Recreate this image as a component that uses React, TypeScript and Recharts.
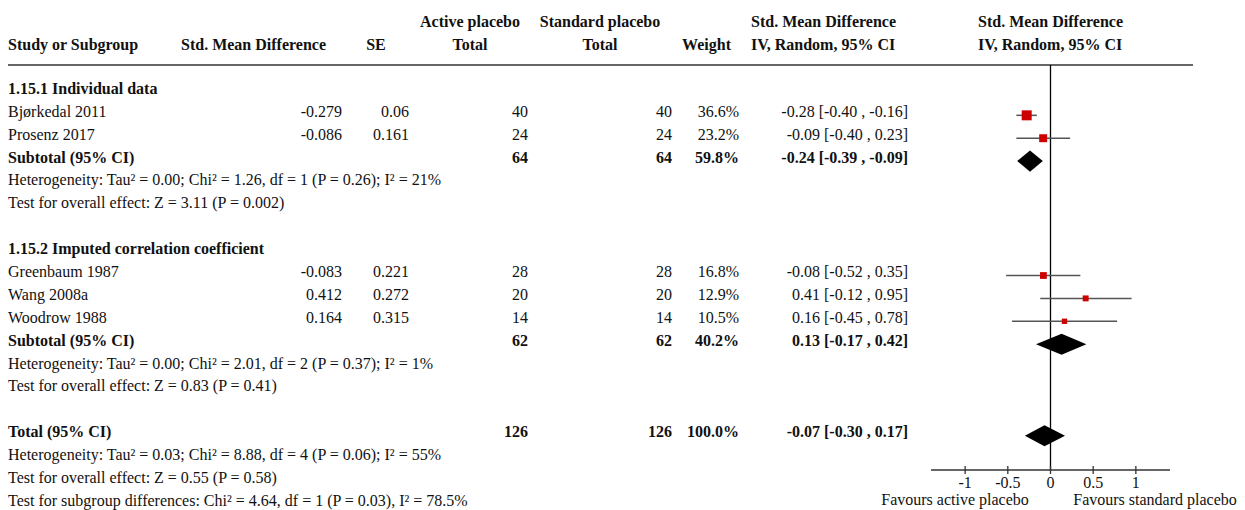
import React from 'react';
import {
  Area,
  ComposedChart,
  ErrorBar,
  ReferenceLine,
  Scatter,
  XAxis,
  YAxis,
} from 'recharts';

// individual studies
const studyNames = ['Bjørkedal 2011', 'Prosenz 2017', 'Greenbaum 1987', 'Wang 2008a', 'Woodrow 1988'];
const studyRows = [1, 2, 8, 9, 10];
const smdValues = [-0.279, -0.086, -0.083, 0.412, 0.164];
const seValues = [0.06, 0.161, 0.221, 0.272, 0.315];
const activeTotals = [40, 24, 28, 20, 14];
const standardTotals = [40, 24, 28, 20, 14];
const studyWeights = [36.6, 23.2, 16.8, 12.9, 10.5];
const studyEst = [-0.28, -0.09, -0.08, 0.41, 0.16];
const studyLow = [-0.4, -0.4, -0.52, -0.12, -0.45];
const studyHigh = [-0.16, 0.23, 0.35, 0.95, 0.78];

// pooled estimates (subtotal 1.15.1, subtotal 1.15.2, overall)
const pooledLabels = ['Subtotal (95% CI)', 'Subtotal (95% CI)', 'Total (95% CI)'];
const pooledRows = [3, 11, 15];
const pooledActive = [64, 62, 126];
const pooledStandard = [64, 62, 126];
const pooledWeights = [59.8, 40.2, 100.0];
const pooledEst = [-0.24, 0.13, -0.07];
const pooledLow = [-0.39, -0.17, -0.3];
const pooledHigh = [-0.09, 0.42, 0.17];

const groupTitles = ['1.15.1 Individual data', '1.15.2 Imputed correlation coefficient'];
const groupRows = [0, 7];

const noteRows = [4, 5, 12, 13, 16, 17, 18];
const noteTexts = [
  'Heterogeneity: Tau² = 0.00; Chi² = 1.26, df = 1 (P = 0.26); I² = 21%',
  'Test for overall effect: Z = 3.11 (P = 0.002)',
  'Heterogeneity: Tau² = 0.00; Chi² = 2.01, df = 2 (P = 0.37); I² = 1%',
  'Test for overall effect: Z = 0.83 (P = 0.41)',
  'Heterogeneity: Tau² = 0.03; Chi² = 8.88, df = 4 (P = 0.06); I² = 55%',
  'Test for overall effect: Z = 0.55 (P = 0.58)',
  'Test for subgroup differences: Chi² = 4.64, df = 1 (P = 0.03), I² = 78.5%',
];

const axisTicks = [-1, -0.5, 0, 0.5, 1];
const favourLabels = ['Favours active placebo', 'Favours standard placebo'];

const W = 1245;
const H = 510;
const FONT = "'Liberation Serif', 'Times New Roman', serif";
const INK = '#111';
const Y_DOMAIN: [number, number] = [-1.2, 16.5];
const PLOT_TOP = 65;
const PLOT_BOTTOM = 470;
const DIAMOND_HALF = 0.46;

// row index -> pixel y of the row centre (same mapping as the Y axis)
const rowY = (k: number) =>
  PLOT_TOP + ((k - Y_DOMAIN[0]) / (Y_DOMAIN[1] - Y_DOMAIN[0])) * (PLOT_BOTTOM - PLOT_TOP);
const baseline = (k: number) => rowY(k) + 1.5;

const fmtCI = (e: number, lo: number, hi: number) =>
  `${e.toFixed(2)} [${lo.toFixed(2)} , ${hi.toFixed(2)}]`;

const studyPoints = studyNames.map((name, i) => ({
  name,
  x: smdValues[i],
  y: studyRows[i],
  err: [smdValues[i] - studyLow[i], studyHigh[i] - smdValues[i]],
  weight: studyWeights[i],
}));

const diamondData = (i: number) => [
  { x: pooledLow[i], band: [pooledRows[i], pooledRows[i]] },
  { x: pooledEst[i], band: [pooledRows[i] - DIAMOND_HALF, pooledRows[i] + DIAMOND_HALF] },
  { x: pooledHigh[i], band: [pooledRows[i], pooledRows[i]] },
];

function WeightedSquare(props: any) {
  const { cx, cy, payload } = props;
  const side = 1.65 * Math.sqrt(payload.weight);
  return <rect x={cx - side / 2} y={cy - side / 2} width={side} height={side} fill="#cc0000" />;
}

function AxisTick(props: any) {
  const { x, y, payload } = props;
  return (
    <g>
      <line x1={x} x2={x} y1={y - 4} y2={y + 4} stroke="#333" strokeWidth={1.3} />
      <text x={x} y={y + 18} textAnchor="middle" fontSize={16} fontFamily={FONT} fill={INK}>
        {payload.value}
      </text>
    </g>
  );
}

type Cell = { text: string; x: number; anchor: 'start' | 'middle' | 'end'; bold?: boolean };

const COL = { name: 8, smd: 342, se: 409, nA: 528, nS: 672, weight: 739, ci: 908 };

function Table() {
  const t = (c: Cell, y: number, key: string) => (
    <text
      key={key}
      x={c.x}
      y={y}
      textAnchor={c.anchor}
      fontWeight={c.bold ? 'bold' : 'normal'}
    >
      {c.text}
    </text>
  );

  const header1: Cell[] = [
    { text: 'Active placebo', x: 470, anchor: 'middle', bold: true },
    { text: 'Standard placebo', x: 600, anchor: 'middle', bold: true },
    { text: 'Std. Mean Difference', x: 751, anchor: 'start', bold: true },
    { text: 'Std. Mean Difference', x: 978, anchor: 'start', bold: true },
  ];
  const header2: Cell[] = [
    { text: 'Study or Subgroup', x: 8, anchor: 'start', bold: true },
    { text: 'Std. Mean Difference', x: 181, anchor: 'start', bold: true },
    { text: 'SE', x: 376, anchor: 'middle', bold: true },
    { text: 'Total', x: 470, anchor: 'middle', bold: true },
    { text: 'Total', x: 600, anchor: 'middle', bold: true },
    { text: 'Weight', x: 731, anchor: 'end', bold: true },
    { text: 'IV, Random, 95% CI', x: 751, anchor: 'start', bold: true },
    { text: 'IV, Random, 95% CI', x: 978, anchor: 'start', bold: true },
  ];

  return (
    <svg
      width={W}
      height={H}
      style={{ position: 'absolute', left: 0, top: 0 }}
      fontFamily={FONT}
      fontSize={16}
      fill={INK}
    >
      {header1.map((c, i) => t(c, 26.5, `h1-${i}`))}
      {header2.map((c, i) => t(c, 49.5, `h2-${i}`))}
      <line x1={8} x2={1193} y1={65} y2={65} stroke="#333" strokeWidth={1.6} />

      {groupTitles.map((g, i) =>
        t({ text: g, x: COL.name, anchor: 'start', bold: true }, baseline(groupRows[i]), `g-${i}`)
      )}

      {studyNames.map((name, i) => {
        const y = baseline(studyRows[i]);
        return (
          <g key={`s-${i}`}>
            {t({ text: name, x: COL.name, anchor: 'start' }, y, 'n')}
            {t({ text: String(smdValues[i]), x: COL.smd, anchor: 'end' }, y, 'm')}
            {t({ text: String(seValues[i]), x: COL.se, anchor: 'end' }, y, 'se')}
            {t({ text: String(activeTotals[i]), x: COL.nA, anchor: 'end' }, y, 'a')}
            {t({ text: String(standardTotals[i]), x: COL.nS, anchor: 'end' }, y, 'b')}
            {t({ text: `${studyWeights[i].toFixed(1)}%`, x: COL.weight, anchor: 'end' }, y, 'w')}
            {t({ text: fmtCI(studyEst[i], studyLow[i], studyHigh[i]), x: COL.ci, anchor: 'end' }, y, 'c')}
          </g>
        );
      })}

      {pooledLabels.map((label, i) => {
        const y = baseline(pooledRows[i]);
        return (
          <g key={`p-${i}`}>
            {t({ text: label, x: COL.name, anchor: 'start', bold: true }, y, 'n')}
            {t({ text: String(pooledActive[i]), x: COL.nA, anchor: 'end', bold: true }, y, 'a')}
            {t({ text: String(pooledStandard[i]), x: COL.nS, anchor: 'end', bold: true }, y, 'b')}
            {t({ text: `${pooledWeights[i].toFixed(1)}%`, x: COL.weight, anchor: 'end', bold: true }, y, 'w')}
            {t({ text: fmtCI(pooledEst[i], pooledLow[i], pooledHigh[i]), x: COL.ci, anchor: 'end', bold: true }, y, 'c')}
          </g>
        );
      })}

      {noteTexts.map((note, i) =>
        t({ text: note, x: COL.name, anchor: 'start' }, baseline(noteRows[i]), `note-${i}`)
      )}

      {t({ text: favourLabels[0], x: 955, anchor: 'middle' }, 504.5, 'fav-0')}
      {t({ text: favourLabels[1], x: 1155, anchor: 'middle' }, 504.5, 'fav-1')}
    </svg>
  );
}

export default function App() {
  return (
    <div style={{ position: 'absolute', left: 0, top: 0, width: W, height: H, background: '#fff' }}>
      <Table />
      <div style={{ position: 'absolute', left: 0, top: 0 }}>
        <ComposedChart
          width={W}
          height={H}
          margin={{ top: PLOT_TOP, right: 75, bottom: H - PLOT_BOTTOM - 30, left: 931 }}
        >
          <XAxis
            type="number"
            dataKey="x"
            domain={[-1.4, 1.4]}
            ticks={axisTicks}
            allowDataOverflow
            height={30}
            tickSize={0}
            tickMargin={0}
            tickLine={false}
            axisLine={{ stroke: '#333', strokeWidth: 1.3 }}
            tick={<AxisTick />}
          />
          <YAxis type="number" dataKey="y" domain={Y_DOMAIN} reversed hide allowDataOverflow width={0} />
          <ReferenceLine x={0} stroke="#000" strokeWidth={1.3} />
          {pooledRows.map((_, i) => (
            <Area
              key={`diamond-${i}`}
              data={diamondData(i)}
              dataKey="band"
              type="linear"
              stroke="none"
              fill="#000"
              fillOpacity={1}
              dot={false}
              activeDot={false}
              isAnimationActive={false}
            />
          ))}
          <Scatter data={studyPoints} shape={<WeightedSquare />} isAnimationActive={false}>
            <ErrorBar dataKey="err" direction="x" width={0} stroke="#555" strokeWidth={1.5} />
          </Scatter>
        </ComposedChart>
      </div>
    </div>
  );
}
